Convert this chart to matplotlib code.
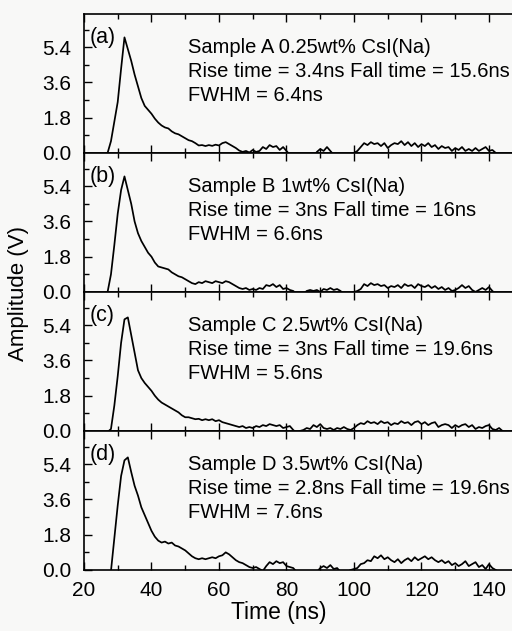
#!/usr/bin/env python3

import matplotlib
matplotlib.use("Agg")
import matplotlib.pyplot as plt
import numpy as np
from matplotlib.ticker import MultipleLocator

# time axis, 1 ns sampling, 20 .. 147 ns
t_start = 20
t_step = 1

panel_tags = ["(a)", "(b)", "(c)", "(d)"]
sample_names = ["Sample A 0.25wt% CsI(Na)", "Sample B 1wt% CsI(Na)",
                "Sample C 2.5wt% CsI(Na)", "Sample D 3.5wt% CsI(Na)"]
rise_times = ["3.4", "3", "3", "2.8"]
fall_times = ["15.6", "16", "19.6", "19.6"]
fwhm_values = ["6.4", "6.6", "5.6", "7.6"]

# amplitude (V); values below 0 fall outside the plot like in the scope trace
amp_a = [
    -0.05, -0.05, -0.05, -0.05, -0.05, -0.05, -0.05, 0.0, 0.6, 1.6,       # 20-29
    2.6, 4.3, 5.9, 5.3, 4.7, 4.0, 3.4, 2.8, 2.4, 2.2,                      # 30-39
    2.0, 1.75, 1.55, 1.4, 1.3, 1.25, 1.1, 1.0, 0.95, 0.85,                 # 40-49
    0.75, 0.65, 0.6, 0.5, 0.38, 0.4, 0.35, 0.4, 0.36, 0.42,                # 50-59
    0.38, 0.5, 0.55, 0.45, 0.35, 0.25, 0.12, 0.05, 0.1, 0.02,              # 60-69
    0.15, 0.05, 0.1, 0.3, 0.2, 0.4, 0.3, 0.35, 0.15, 0.3,                  # 70-79
    0.1, -0.1, -0.2, -0.2, -0.1, -0.2, -0.2, -0.1, -0.2, 0.05,             # 80-89
    0.2, 0.1, 0.3, 0.1, -0.1, -0.2, -0.2, -0.1, -0.2, -0.1,                # 90-99
    0.0, 0.1, 0.3, 0.5, 0.4, 0.55, 0.45, 0.5, 0.35, 0.5,                   # 100-109
    0.25, 0.4, 0.5, 0.45, 0.6, 0.4, 0.55, 0.35, 0.5, 0.3,                  # 110-119
    0.45, 0.35, 0.5, 0.3, 0.4, 0.2, 0.35, 0.25, 0.3, 0.1,                  # 120-129
    0.25, 0.15, 0.3, 0.1, 0.2, 0.1, 0.25, 0.1, 0.2, 0.3,                   # 130-139
    0.1, 0.15, 0.0, -0.1, -0.1, -0.1, -0.1, -0.1,                          # 140-147
]
amp_b = [
    -0.05, -0.05, -0.05, -0.05, -0.05, -0.05, -0.05, 0.0, 0.9, 2.4,
    4.0, 5.2, 5.9, 5.2, 4.5, 3.6, 3.0, 2.6, 2.3, 2.0,
    1.8, 1.5, 1.3, 1.25, 1.2, 1.15, 1.0, 0.9, 0.8, 0.75,
    0.65, 0.55, 0.45, 0.4, 0.5, 0.45, 0.55, 0.5, 0.45, 0.55,
    0.5, 0.45, 0.55, 0.5, 0.4, 0.3, 0.2, 0.15, 0.2, 0.1,
    0.15, 0.1, 0.2, 0.15, 0.35, 0.3, 0.4, 0.25, 0.35, 0.15,
    0.2, 0.1, 0.05, -0.1, -0.2, -0.1, 0.05, 0.1, 0.05, 0.1,
    0.0, 0.15, 0.1, 0.2, 0.1, 0.15, 0.05, -0.1, -0.2, -0.1,
    0.0, 0.05, 0.15, 0.4, 0.3, 0.45, 0.35, 0.4, 0.3, 0.35,
    0.2, 0.3, 0.25, 0.35, 0.2, 0.4, 0.3, 0.35, 0.2, 0.4,
    0.3, 0.25, 0.35, 0.2, 0.3, 0.15, 0.25, 0.1, 0.2, 0.05,
    0.1, 0.2, 0.35, 0.2, 0.3, 0.1, 0.0, 0.1, 0.2, 0.1,
    0.25, 0.05, -0.1, -0.1, -0.1, -0.1, -0.1, -0.1,
]
amp_c = [
    -0.05, -0.05, -0.05, -0.05, -0.05, -0.05, -0.05, -0.05, 0.1, 1.3,
    2.8, 4.5, 5.7, 5.8, 4.9, 4.0, 3.1, 2.7, 2.45, 2.25,
    2.05, 1.8, 1.6, 1.45, 1.35, 1.25, 1.15, 1.05, 0.95, 0.8,
    0.7, 0.7, 0.65, 0.6, 0.62, 0.55, 0.6, 0.55, 0.6, 0.5,
    0.55, 0.45, 0.4, 0.35, 0.3, 0.25, 0.2, 0.25, 0.15, 0.2,
    0.15, 0.25, 0.2, 0.3, 0.25, 0.35, 0.3, 0.25, 0.3, 0.15,
    0.2, 0.25, 0.05, -0.1, 0.0, 0.05, 0.15, 0.1, 0.3, 0.2,
    0.35, 0.15, 0.1, 0.15, 0.05, 0.15, 0.1, 0.2, 0.1, 0.05,
    0.15, 0.3, 0.4, 0.35, 0.5, 0.4, 0.45, 0.35, 0.5, 0.4,
    0.45, 0.3, 0.4, 0.35, 0.5, 0.4, 0.45, 0.3, 0.45, 0.5,
    0.35, 0.45, 0.3, 0.4, 0.45, 0.2, 0.3, 0.35, 0.3, 0.15,
    0.3, 0.2, 0.3, 0.35, 0.2, 0.3, 0.1, 0.2, 0.15, 0.25,
    0.3, 0.1, 0.05, 0.15, 0.0, -0.1, -0.1, -0.1,
]
amp_d = [
    -0.05, -0.05, -0.05, -0.05, -0.05, -0.05, -0.05, -0.1, -0.05, 1.6,
    3.3, 4.8, 5.6, 5.75, 5.0, 4.3, 3.8, 3.2, 2.8, 2.4,
    2.0, 1.7, 1.5, 1.4, 1.45, 1.35, 1.4, 1.25, 1.2, 1.1,
    1.0, 0.85, 0.7, 0.6, 0.55, 0.6, 0.55, 0.6, 0.65, 0.6,
    0.7, 0.75, 0.9, 0.8, 0.65, 0.5, 0.4, 0.35, 0.25, 0.15,
    0.1, 0.15, 0.05, -0.05, 0.2, 0.4, 0.3, 0.45, 0.35, 0.4,
    0.2, 0.15, 0.1, -0.1, -0.2, -0.1, -0.2, -0.1, -0.2, -0.1,
    0.1, 0.2, 0.1, 0.25, 0.05, 0.1, -0.1, -0.15, -0.1, 0.0,
    0.05, 0.1, 0.3, 0.35, 0.5, 0.45, 0.7, 0.6, 0.75, 0.55,
    0.65, 0.5, 0.4, 0.55, 0.35, 0.5, 0.6, 0.45, 0.65, 0.5,
    0.6, 0.7, 0.55, 0.65, 0.5, 0.4, 0.5, 0.35, 0.45, 0.25,
    0.35, 0.2, 0.3, 0.45, 0.2, 0.3, 0.4, 0.15, 0.25, 0.05,
    0.3, 0.1, 0.0, -0.1, -0.1, -0.1, -0.1, -0.1,
]
traces = [amp_a, amp_b, amp_c, amp_d]


def main():
    plt.rcParams['font.family'] = ['Liberation Sans', 'DejaVu Sans']
    plt.rcParams['font.size'] = 14.5

    bg = '#f8f8f7'
    fig, axes = plt.subplots(4, 1, sharex=True, figsize=(5.12, 6.31), dpi=100)
    fig.patch.set_facecolor(bg)
    fig.subplots_adjust(left=0.164, right=1.021, bottom=0.0967, top=0.978, hspace=0)

    for i, ax in enumerate(axes):
        amp = traces[i]
        t = t_start + t_step * np.arange(len(amp))
        ax.set_facecolor(bg)
        ax.plot(t, amp, color='black', lw=1.25)

        ax.set_xlim(20, 150)
        ax.set_ylim(0, 7.1)
        ax.set_yticks([0.0, 1.8, 3.6, 5.4])
        ax.set_yticklabels(["0.0", "1.8", "3.6", "5.4"])
        ax.yaxis.set_minor_locator(MultipleLocator(0.9))
        ax.xaxis.set_major_locator(MultipleLocator(20))
        ax.xaxis.set_minor_locator(MultipleLocator(10))
        ax.tick_params(which='both', direction='in', top=True, right=False,
                       width=1.0, colors='black', labelsize=15)
        ax.tick_params(which='major', length=6)
        ax.tick_params(which='minor', length=3.5)
        ax.tick_params(axis='y', which='major', pad=9)
        ax.tick_params(axis='x', which='major', pad=8)
        for s in ax.spines.values():
            s.set_linewidth(1.2)

        ax.text(0.012, 0.83, panel_tags[i], transform=ax.transAxes,
                ha='left', va='center', fontsize=15.5)
        info = (f"{sample_names[i]}\n"
                f"Rise time = {rise_times[i]}ns Fall time = {fall_times[i]}ns\n"
                f"FWHM = {fwhm_values[i]}ns")
        ax.text(0.237, 0.83, info, transform=ax.transAxes, ha='left', va='top',
                linespacing=1.36, fontsize=14.5)

    axes[-1].set_xticks([20, 40, 60, 80, 100, 120, 140])
    fig.text(0.036, 0.535, "Amplitude (V)", rotation=90, ha='center', va='center', fontsize=16)
    fig.text(0.545, 0.029, "Time (ns)", ha='center', va='center', fontsize=16.5)

    fig.savefig("out.png", dpi=100, facecolor=bg)


if __name__ == '__main__':
    main()
